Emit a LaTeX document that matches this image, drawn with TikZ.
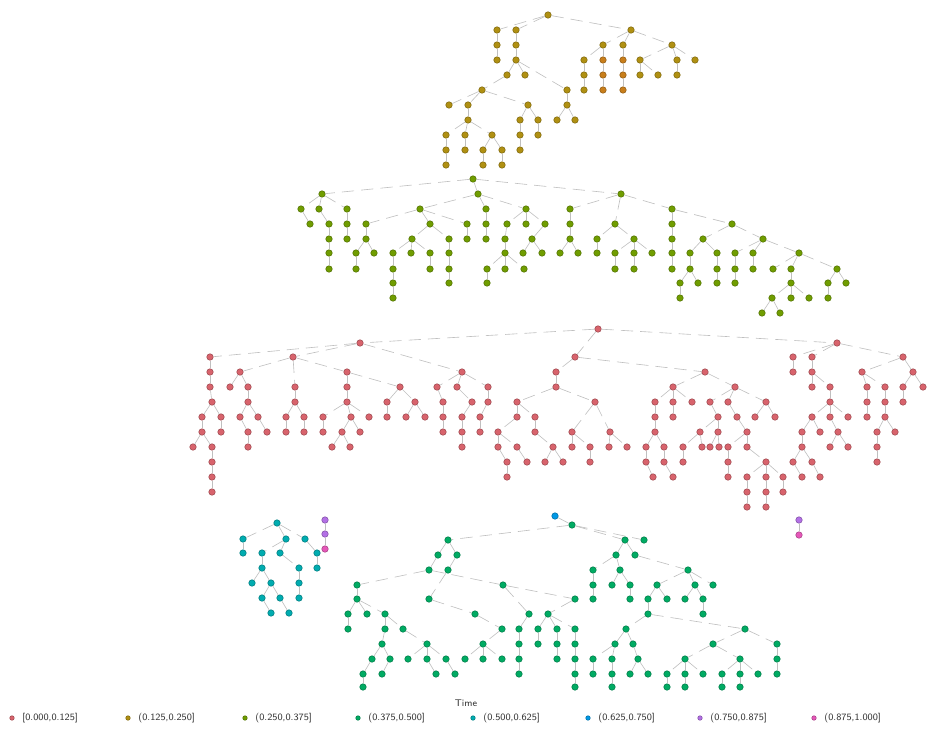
\documentclass[tikz,border=0pt]{standalone}
\definecolor{cgold}{RGB}{196,160,20}
\definecolor{corange}{RGB}{222,140,30}
\definecolor{cgreen}{RGB}{124,174,0}
\definecolor{cred}{RGB}{240,110,120}
\definecolor{cteal}{RGB}{0,190,110}
\definecolor{ccyan}{RGB}{0,191,196}
\definecolor{cblue}{RGB}{0,169,255}
\definecolor{cpurple}{RGB}{199,124,255}
\definecolor{cpink}{RGB}{255,97,204}
\begin{document}
\begin{tikzpicture}[x=0.02cm, y=-0.02cm,
    vtx/.style={circle, inner sep=0pt, minimum size=0.13cm, line width=0.3pt, draw=#1!65!black, fill=#1!90!black},
    link/.style={draw=gray!50, line width=0.35pt, dash pattern=on 7pt off 4pt},
    lgtext/.style={anchor=west, inner sep=0pt, text=black!80, font=\sffamily\fontsize{5.5}{6}\selectfont}]
    \useasboundingbox (0,0) rectangle (932,733);

    % 第一棵树
    \foreach \x/\y in {548/15, 497/30, 516/30, 631/30, 497/45, 516/45, 603/45, 623/45, 672/45,
        497/60, 516/60, 584/60, 640/60, 677/60, 695/60, 507/75, 525/75, 584/75, 640/75, 658/75, 677/75,
        482/90, 567/90, 584/90, 449/105, 468/105, 528/105, 567/105, 468/120, 520/120, 538/120, 557/120, 575/120,
        446/135, 465/135, 492/135, 520/135, 538/135, 446/150, 465/150, 483/150, 502/150, 520/150,
        446/165, 483/165, 502/165}
        \node[vtx=cgold] (n\x-\y) at (\x,\y) {};
    \foreach \x/\y in {603/60, 623/60, 603/75, 623/75, 603/90, 623/90}
        \node[vtx=corange] (n\x-\y) at (\x,\y) {};
    \foreach \a/\b in {548-15/497-30, 548-15/516-30, 548-15/631-30, 497-30/497-45, 497-45/497-60,
        516-30/516-45, 516-45/516-60, 516-60/507-75, 516-60/525-75, 516-60/567-90,
        507-75/482-90, 482-90/449-105, 482-90/468-105, 482-90/528-105,
        468-105/468-120, 468-120/446-135, 468-120/465-135, 468-120/492-135,
        446-135/446-150, 446-150/446-165, 465-135/465-150, 492-135/483-150, 492-135/502-150,
        483-150/483-165, 502-150/502-165, 528-105/520-120, 528-105/538-120, 520-120/520-135,
        520-135/520-150, 538-120/538-135, 567-90/567-105, 567-105/557-120, 567-105/575-120,
        631-30/603-45, 631-30/623-45, 631-30/672-45, 603-45/584-60, 603-45/603-60,
        584-60/584-75, 584-75/584-90, 603-60/603-75, 603-75/603-90,
        623-45/623-60, 623-60/623-75, 623-75/623-90,
        672-45/640-60, 672-45/677-60, 672-45/695-60, 640-60/640-75, 640-60/658-75, 677-60/677-75}
        \draw[link] (n\a) -- (n\b);

    % 第二棵树
    \foreach \x/\y in {473/179, 322/194, 478/194, 621/194,
        301/209, 319/209, 347/209, 420/209, 486/209, 526/209, 570/209, 672/209,
        310/224, 329/224, 347/224, 366/224, 430/224, 467/224, 486/224, 507/224, 526/224, 545/224, 570/224, 615/224, 672/224, 732/224,
        329/239, 347/239, 366/239, 412/239, 449/239, 467/239, 486/239, 505/239, 532/239, 570/239, 597/239, 634/239, 672/239, 703/239, 763/239,
        329/253, 356/253, 374/253, 393/253, 411/253, 430/253, 449/253, 505/253, 523/253, 542/253, 560/253, 578/253, 597/253,
        615/253, 634/253, 652/253, 672/253, 690/253, 717/253, 735/253, 753/253, 799/253,
        329/269, 356/269, 393/269, 430/269, 449/269, 487/269, 505/269, 524/269, 615/269, 634/269, 672/269, 690/269,
        717/269, 735/269, 753/269, 773/269, 791/269, 837/269,
        393/283, 449/283, 487/283, 680/283, 698/283, 717/283, 735/283, 791/283, 828/283, 846/283,
        393/298, 680/298, 772/298, 791/298, 809/298, 828/298, 762/313, 780/313}
        \node[vtx=cgreen] (n\x-\y) at (\x,\y) {};
    \foreach \a/\b in {473-179/322-194, 473-179/478-194, 473-179/621-194,
        322-194/301-209, 322-194/319-209, 322-194/347-209, 301-209/310-224, 319-209/329-224,
        329-224/329-239, 329-239/329-253, 329-253/329-269, 347-209/347-224, 347-224/347-239,
        478-194/420-209, 478-194/486-209, 478-194/526-209, 420-209/366-224, 420-209/430-224, 420-209/467-224,
        366-224/366-239, 366-239/356-253, 366-239/374-253, 356-253/356-269,
        430-224/412-239, 430-224/449-239, 412-239/393-253, 412-239/411-253, 412-239/430-253,
        393-253/393-269, 393-269/393-283, 393-283/393-298, 430-253/430-269,
        449-239/449-253, 449-253/449-269, 449-269/449-283, 467-224/467-239, 486-209/486-224, 486-224/486-239,
        526-209/507-224, 526-209/526-224, 526-209/545-224, 507-224/505-239, 505-239/505-253,
        505-253/487-269, 505-253/505-269, 505-253/524-269, 487-269/487-283,
        545-224/532-239, 532-239/523-253, 532-239/542-253,
        621-194/570-209, 621-194/615-224, 621-194/672-209, 570-209/570-224, 570-224/570-239,
        570-239/560-253, 570-239/578-253, 615-224/597-239, 615-224/634-239, 597-239/597-253,
        634-239/615-253, 634-239/634-253, 634-239/652-253, 615-253/615-269, 634-253/634-269,
        672-209/672-224, 672-224/672-239, 672-239/672-253, 672-253/672-269, 672-209/732-224,
        732-224/703-239, 732-224/763-239, 703-239/690-253, 703-239/717-253, 690-253/690-269,
        690-269/680-283, 690-269/698-283, 680-283/680-298, 717-253/717-269, 717-269/717-283,
        763-239/735-253, 763-239/753-253, 763-239/799-253, 735-253/735-269, 735-269/735-283, 753-253/753-269,
        799-253/773-269, 799-253/791-269, 799-253/837-269, 791-269/791-283,
        791-283/772-298, 791-283/791-298, 791-283/809-298, 772-298/762-313, 772-298/780-313,
        837-269/828-283, 837-269/846-283, 828-283/828-298}
        \draw[link] (n\a) -- (n\b);

    % 第三棵树
    \foreach \x/\y in {598/329, 360/343, 837/343,
        210/357, 293/357, 575/357, 793/357, 812/357, 903/357,
        210/372, 240/372, 347/372, 462/372, 556/372, 705/372, 793/372, 812/372, 862/372, 913/372,
        210/387, 230/387, 248/387, 295/387, 347/387, 400/387, 437/387, 457/387, 488/387, 556/387,
        673/387, 735/387, 812/387, 830/387, 867/387, 885/387, 903/387, 923/387,
        212/402, 248/402, 295/402, 347/402, 387/402, 415/402, 443/402, 472/402, 488/402, 517/402, 595/402,
        655/402, 673/402, 692/402, 710/402, 728/402, 766/402, 830/402, 867/402, 885/402, 903/402,
        202/417, 221/417, 240/417, 258/417, 286/417, 304/417, 323/417, 351/417, 369/417, 387/417, 406/417,
        425/417, 443/417, 462/417, 480/417, 517/417, 535/417, 655/417, 673/417, 718/417, 737/417, 755/417,
        775/417, 812/417, 830/417, 848/417, 867/417, 885/417,
        202/432, 221/432, 248/432, 267/432, 286/432, 304/432, 323/432, 342/432, 360/432, 443/432, 462/432,
        480/432, 498/432, 535/432, 572/432, 610/432, 655/432, 700/432, 718/432, 747/432, 802/432, 820/432,
        838/432, 877/432, 895/432,
        193/447, 212/447, 248/447, 332/447, 350/447, 462/447, 498/447, 517/447, 553/447, 572/447, 590/447,
        609/447, 627/447, 646/447, 664/447, 683/447, 702/447, 710/447, 719/447, 728/447, 747/447, 802/447,
        830/447, 848/447, 877/447,
        212/462, 507/462, 527/462, 545/462, 563/462, 590/462, 646/462, 664/462, 683/462, 728/462, 766/462,
        793/462, 812/462, 877/462,
        212/477, 507/477, 653/477, 673/477, 728/477, 747/477, 766/477, 783/477, 802/477, 820/477,
        212/492, 747/492, 766/492, 783/492, 747/507, 766/507}
        \node[vtx=cred] (n\x-\y) at (\x,\y) {};
    \foreach \a/\b in {598-329/360-343, 598-329/837-343, 360-343/210-357, 360-343/293-357, 598-329/575-357,
        837-343/793-357, 837-343/812-357, 837-343/903-357,
        210-357/210-372, 293-357/240-372, 293-357/347-372, 360-343/462-372, 575-357/556-372, 575-357/705-372,
        793-357/793-372, 812-357/812-372, 903-357/862-372, 903-357/913-372,
        210-372/210-387, 240-372/230-387, 240-372/248-387, 293-357/295-387, 347-372/347-387, 347-372/400-387,
        462-372/437-387, 462-372/457-387, 462-372/488-387, 556-372/556-387, 705-372/673-387, 705-372/735-387,
        812-372/812-387, 812-372/830-387, 862-372/867-387, 862-372/885-387, 913-372/903-387, 913-372/923-387,
        210-387/212-402, 248-387/248-402, 295-387/295-402, 347-387/347-402, 400-387/387-402, 400-387/415-402,
        437-387/443-402, 457-387/472-402, 488-387/488-402, 556-387/517-402, 556-387/595-402,
        673-387/655-402, 673-387/673-402, 673-387/692-402, 735-387/710-402, 735-387/728-402, 735-387/766-402,
        830-387/830-402, 867-387/867-402, 885-387/885-402, 903-387/903-402,
        212-402/202-417, 212-402/221-417, 248-402/240-417, 248-402/258-417, 295-402/286-417, 295-402/304-417,
        347-402/323-417, 347-402/351-417, 347-402/369-417, 387-402/387-417, 415-402/406-417, 415-402/425-417,
        443-402/443-417, 472-402/462-417, 488-402/480-417, 517-402/517-417, 517-402/535-417,
        655-402/655-417, 673-402/673-417, 710-402/718-417, 728-402/737-417, 766-402/755-417, 766-402/775-417,
        830-402/812-417, 830-402/830-417, 830-402/848-417, 867-402/867-417, 885-402/885-417,
        202-417/202-432, 221-417/221-432, 240-417/248-432, 258-417/267-432, 286-417/286-432, 304-417/304-432,
        323-417/323-432, 351-417/342-432, 351-417/360-432, 443-417/443-432, 462-417/462-432, 480-417/480-432,
        517-417/498-432, 535-417/535-432, 595-402/572-432, 595-402/610-432, 655-417/655-432,
        718-417/700-432, 718-417/718-432, 737-417/747-432, 812-417/802-432, 812-417/820-432,
        830-417/838-432, 885-417/877-432, 885-417/895-432,
        202-432/193-447, 202-432/212-447, 248-432/248-447, 342-432/332-447, 342-432/350-447, 462-432/462-447,
        498-432/498-447, 498-432/517-447, 535-432/553-447, 572-432/572-447, 572-432/590-447,
        610-432/609-447, 610-432/627-447, 655-432/646-447, 655-432/664-447, 700-432/683-447, 700-432/702-447,
        718-432/710-447, 718-432/719-447, 747-432/728-447, 747-432/747-447, 802-432/802-447,
        838-432/830-447, 838-432/848-447, 877-432/877-447,
        212-447/212-462, 498-447/507-462, 517-447/527-462, 553-447/545-462, 553-447/563-462, 590-447/590-462,
        646-447/646-462, 664-447/664-462, 683-447/683-462, 728-447/728-462, 747-447/766-462,
        802-447/793-462, 802-447/812-462, 877-447/877-462,
        212-462/212-477, 507-462/507-477, 646-462/653-477, 664-462/673-477, 728-462/728-477,
        766-462/747-477, 766-462/766-477, 766-462/783-477, 793-462/802-477, 812-462/820-477,
        212-477/212-492, 747-477/747-492, 766-477/766-492, 783-477/783-492, 747-492/747-507, 766-492/766-507}
        \draw[link] (n\a) -- (n\b);

    % 左下小树
    \foreach \x/\y in {277/523, 243/539, 286/539, 305/539, 243/553, 262/553, 280/553, 317/553,
        262/568, 299/568, 317/568, 252/583, 271/583, 299/583, 262/598, 280/598, 299/598, 271/613, 289/613}
        \node[vtx=ccyan] (n\x-\y) at (\x,\y) {};
    \foreach \a/\b in {277-523/243-539, 277-523/286-539, 277-523/305-539, 243-539/243-553,
        286-539/262-553, 286-539/280-553, 305-539/317-553, 262-553/262-568, 280-553/299-568,
        317-553/317-568, 262-568/252-583, 262-568/271-583, 299-568/299-583, 271-583/262-598,
        271-583/280-598, 299-583/299-598, 262-598/271-613, 280-598/289-613}
        \draw[link] (n\a) -- (n\b);

    \foreach \x/\y in {325/520, 325/534, 799/520}
        \node[vtx=cpurple] (n\x-\y) at (\x,\y) {};
    \foreach \x/\y in {325/549, 799/535}
        \node[vtx=cpink] (n\x-\y) at (\x,\y) {};
    \foreach \a/\b in {325-520/325-534, 325-534/325-549, 799-520/799-535}
        \draw[link] (n\a) -- (n\b);

    % 第四棵树
    \node[vtx=cblue] (n555-516) at (555,516) {};
    \foreach \x/\y in {572/525, 448/540, 625/540, 644/540, 438/555, 457/555, 616/555, 635/555,
        429/570, 448/570, 593/570, 620/570, 688/570,
        357/585, 503/585, 593/585, 612/585, 630/585, 657/585, 695/585, 713/585,
        357/599, 429/599, 575/599, 593/599, 630/599, 648/599, 667/599, 685/599, 703/599,
        348/614, 367/614, 385/614, 475/614, 529/614, 548/614, 648/614, 703/614,
        348/629, 385/629, 403/629, 502/629, 519/629, 538/629, 557/629, 575/629, 626/629, 745/629,
        382/644, 427/644, 483/644, 519/644, 538/644, 557/644, 575/644, 615/644, 633/644, 713/644, 777/644,
        372/659, 390/659, 408/659, 427/659, 446/659, 465/659, 483/659, 502/659, 519/659, 557/659, 575/659,
        593/659, 612/659, 638/659, 685/659, 740/659, 777/659,
        363/674, 382/674, 436/674, 455/674, 519/674, 575/674, 593/674, 612/674, 630/674, 648/674,
        667/674, 685/674, 703/674, 722/674, 740/674, 758/674, 777/674,
        363/687, 575/687, 612/687, 667/687, 685/687, 722/687, 740/687}
        \node[vtx=cteal] (n\x-\y) at (\x,\y) {};
    \foreach \a/\b in {555-516/572-525, 572-525/448-540, 572-525/625-540, 572-525/644-540,
        448-540/438-555, 448-540/457-555, 438-555/429-570, 457-555/448-570,
        429-570/357-585, 429-570/503-585, 357-585/357-599, 357-599/348-614, 357-599/367-614, 357-599/385-614,
        348-614/348-629, 385-614/385-629, 385-614/403-629, 385-629/382-644, 382-644/372-659, 382-644/390-659,
        372-659/363-674, 363-674/363-687, 390-659/382-674,
        403-629/427-644, 427-644/408-659, 427-644/427-659, 427-644/446-659, 427-659/436-674, 446-659/455-674,
        448-570/429-599, 429-599/475-614, 475-614/502-629, 502-629/483-644,
        483-644/465-659, 483-644/483-659, 483-644/502-659,
        503-585/529-614, 503-585/575-599, 575-599/548-614,
        529-614/519-629, 519-629/519-644, 519-644/519-659, 519-659/519-674,
        548-614/538-629, 548-614/557-629, 548-614/575-629, 538-629/538-644, 557-629/557-644, 557-644/557-659,
        575-629/575-644, 575-644/575-659, 575-659/575-674, 575-674/575-687,
        625-540/616-555, 625-540/635-555, 616-555/593-570, 616-555/620-570, 593-570/593-585, 593-585/593-599,
        620-570/612-585, 620-570/630-585, 630-585/630-599,
        635-555/688-570, 688-570/657-585, 688-570/695-585, 688-570/713-585, 657-585/648-599, 657-585/667-599,
        695-585/685-599, 695-585/703-599, 703-599/703-614,
        648-599/648-614, 648-614/626-629, 648-614/745-629, 626-629/615-644, 626-629/633-644,
        615-644/593-659, 615-644/612-659, 633-644/638-659, 593-659/593-674, 612-659/612-674, 612-674/612-687,
        638-659/630-674, 638-659/648-674,
        745-629/713-644, 745-629/777-644, 713-644/685-659, 713-644/740-659,
        685-659/667-674, 685-659/685-674, 685-659/703-674, 667-674/667-687, 685-674/685-687,
        740-659/722-674, 740-659/740-674, 740-659/758-674, 722-674/722-687, 740-674/740-687,
        777-644/777-659, 777-659/777-674}
        \draw[link] (n\a) -- (n\b);

    % 图例
    \node[lgtext, anchor=center] (lgtitle) at (466,703) {Time};
    \foreach \i/\xx/\c/\t in {1/12/cred/{[0.000,0.125]}, 2/128/cgold/{(0.125,0.250]}, 3/245/cgreen/{(0.250,0.375]},
        4/358/cteal/{(0.375,0.500]}, 5/473/ccyan/{(0.500,0.625]}, 6/588/cblue/{(0.625,0.750]},
        7/700/cpurple/{(0.750,0.875]}, 8/814/cpink/{(0.875,1.000]}} {
        \node[vtx=\c, minimum size=0.09cm] (lk\i) at (\xx,718) {};
        \node[lgtext] (lt\i) at ([xshift=0.2cm]lk\i.center) {\t};
    }
\end{tikzpicture}
\end{document}
